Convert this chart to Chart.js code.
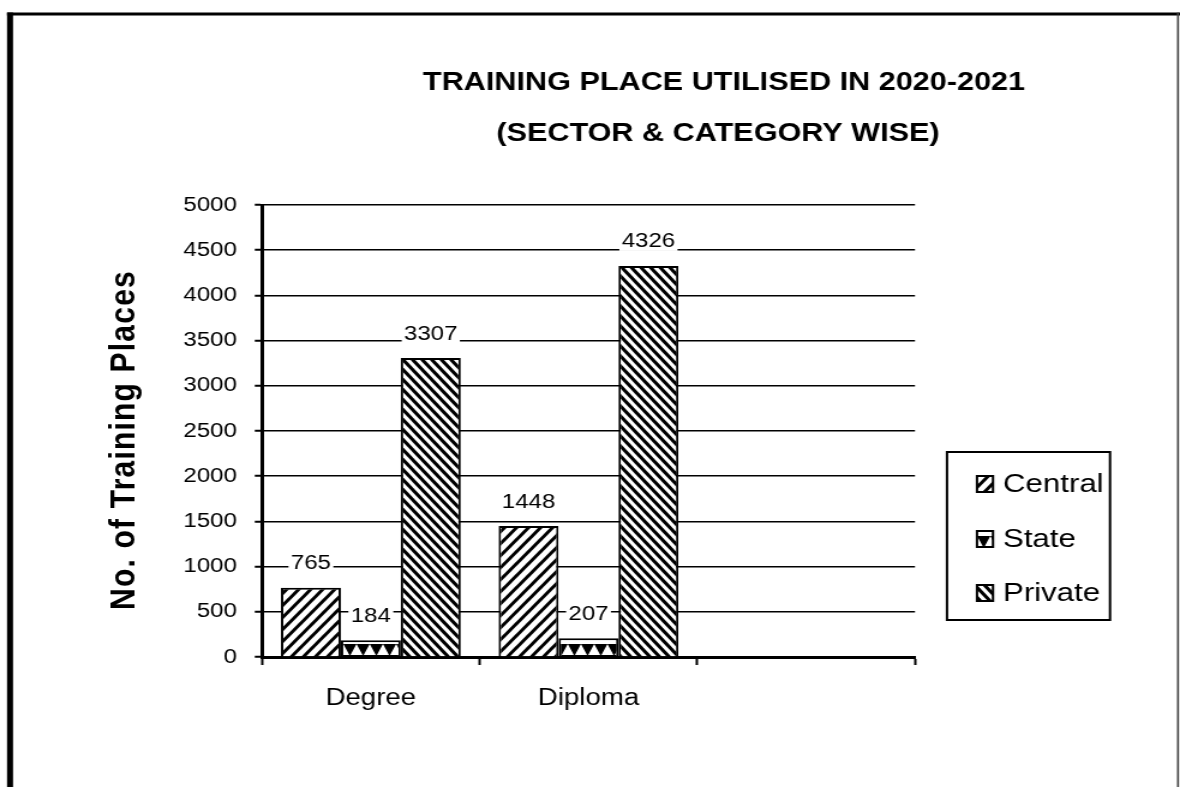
<!DOCTYPE html>
<html><head><meta charset="utf-8">
<script src="https://cdn.jsdelivr.net/npm/chart.js@4/dist/chart.umd.min.js"></script>
<style>html,body{margin:0;padding:0;background:#fff;overflow:hidden}
#c{display:block}</style></head>
<body><canvas id="c" width="983" height="787" style="width:1180px;height:787px"></canvas>
<script>
// ---- data ----
const categories = ['Degree', 'Diploma', ''];
const seriesNames = ['Central', 'State', 'Private'];
const centralValues = [765, 1448, null];
const stateValues = [184, 207, null];
const privateValues = [3307, 4326, null];
const yTickMin = 0;
const yTickMax = 5000;
const yTickStep = 500;
const titleLines = ['TRAINING PLACE UTILISED IN 2020-2021', '(SECTOR & CATEGORY WISE)'];
const yAxisTitle = 'No. of Training Places';

// ---- geometry helpers (canvas is drawn narrower and stretched horizontally) ----
const W = 983, H = 787;
const SX = W / 1180;
const R = x => x * SX;
const FONT = '"Liberation Sans", Arial, Helvetica, sans-serif';

function stripePattern(w, h, dir, lw) {
  const c = document.createElement('canvas');
  c.width = w; c.height = h;
  const g = c.getContext('2d');
  g.fillStyle = '#fff'; g.fillRect(0, 0, w, h);
  g.strokeStyle = '#000'; g.lineWidth = lw; g.lineCap = 'square';
  for (let k = -1; k <= 1; k++) {
    g.beginPath();
    if (dir === '/') { g.moveTo(k * w, h); g.lineTo(k * w + w, 0); }
    else { g.moveTo(k * w, 0); g.lineTo(k * w + w, h); }
    g.stroke();
  }
  return g.createPattern(c, 'repeat');
}
function trianglePattern(w, h) {
  const c = document.createElement('canvas');
  c.width = w; c.height = h;
  const g = c.getContext('2d');
  g.fillStyle = '#fff'; g.fillRect(0, 0, w, h);
  g.fillStyle = '#000';
  g.beginPath(); g.moveTo(0, 5); g.lineTo(w, 5); g.lineTo(w / 2, h - 1); g.closePath(); g.fill();
  g.fillRect(0, h - 2, w, 2);
  return g.createPattern(c, 'repeat');
}
const pCentral = stripePattern(10, 12, '/', 3);
const pState = trianglePattern(11, 18);
const pPrivate = stripePattern(8, 10, '\\', 3);
const patterns = [pCentral, pState, pPrivate];

const decor = {
  id: 'decor',
  beforeDraw(chart) {
    const ctx = chart.ctx;
    ctx.save();
    ctx.fillStyle = '#fff'; ctx.fillRect(0, 0, W, H);
    ctx.fillStyle = '#000';
    ctx.fillRect(R(7), 12.5, R(6), H);        // left frame
    ctx.fillRect(R(7), 12.5, W - R(7), 3);     // top frame
    ctx.fillStyle = '#444';
    ctx.fillRect(R(1177), 12.5, R(2), H);      // right frame
    ctx.restore();
  },
  beforeDatasetsDraw(chart) {
    const y0 = chart.scales.y.getPixelForValue(0);
    if (pState.setTransform) pState.setTransform(new DOMMatrix([1, 0, 0, 1, 0, y0]));
  },
  afterDatasetsDraw(chart) {
    const ctx = chart.ctx;
    ctx.save();
    ctx.font = '20px ' + FONT;
    ctx.textAlign = 'center'; ctx.textBaseline = 'middle';
    chart.data.datasets.forEach((ds, i) => {
      const meta = chart.getDatasetMeta(i);
      meta.data.forEach((bar, j) => {
        const v = ds.data[j];
        if (v == null) return;
        const t = String(v);
        const w = ctx.measureText(t).width;
        const y = bar.y - 25;
        ctx.fillStyle = '#fff';
        ctx.fillRect(bar.x - w / 2 - 2, y - 10, w + 4, 20);
        ctx.fillStyle = '#000';
        ctx.fillText(t, bar.x, y + 1);
      });
    });
    ctx.restore();
  },
  afterDraw(chart) {
    const ctx = chart.ctx;
    ctx.save();
    ctx.fillStyle = '#000';
    ctx.textAlign = 'center'; ctx.textBaseline = 'middle';
    ctx.font = 'bold 25.5px ' + FONT;
    ctx.fillText(titleLines[0], R(724), 83);
    ctx.fillText(titleLines[1], R(718), 134);
    // y-axis title
    ctx.save();
    ctx.translate(R(124), 440);
    ctx.rotate(-Math.PI / 2);
    ctx.font = 'bold 30px ' + FONT;
    if ('letterSpacing' in ctx) ctx.letterSpacing = '1.2px';
    ctx.fillText(yAxisTitle, 0, 0);
    ctx.restore();
    // legend
    const lx = R(947), ly = 452, lw = R(1110) - R(947), lh = 168;
    ctx.lineWidth = 2; ctx.strokeStyle = '#000';
    ctx.fillStyle = '#fff';
    ctx.fillRect(lx, ly, lw, lh);
    ctx.strokeRect(lx, ly, lw, lh);
    const rows = [484, 539, 593];
    ctx.font = '26px ' + FONT;
    ctx.textAlign = 'left';
    chart.data.datasets.forEach((ds, i) => {
      const sx = R(977), sy = rows[i] - 8, sw = R(16), sh = 16;
      ctx.fillStyle = patterns[i];
      ctx.fillRect(sx, sy, sw, sh);
      ctx.lineWidth = 2;
      ctx.strokeRect(sx, sy, sw, sh);
      ctx.fillStyle = '#000';
      ctx.fillText(ds.label, R(1003), rows[i] + 1);
    });
    ctx.restore();
  }
};

new Chart(document.getElementById('c'), {
  type: 'bar',
  data: {
    labels: categories,
    datasets: [
      { label: seriesNames[0], data: centralValues, backgroundColor: pCentral },
      { label: seriesNames[1], data: stateValues, backgroundColor: pState },
      { label: seriesNames[2], data: privateValues, backgroundColor: pPrivate }
    ]
  },
  options: {
    responsive: false,
    animation: false,
    devicePixelRatio: 1,
    events: [],
    layout: { padding: { top: 205, right: W - R(915), bottom: 0, left: 0 } },
    datasets: { bar: { categoryPercentage: 0.826, barPercentage: 1, borderColor: '#000', borderWidth: 2, borderSkipped: 'start' } },
    plugins: { legend: { display: false }, title: { display: false }, tooltip: { enabled: false } },
    scales: {
      x: {
        offset: true,
        grid: { display: true, drawOnChartArea: false, drawTicks: true, tickLength: 8, tickWidth: 2, color: '#000', offset: true },
        border: { display: true, color: '#000', width: 3 },
        ticks: { color: '#000', font: { family: FONT, size: 23 }, padding: 20, maxRotation: 0, autoSkip: false },
        afterFit(s) { s.height = H - 657; }
      },
      y: {
        min: yTickMin, max: yTickMax,
        ticks: { stepSize: yTickStep, color: '#000', font: { family: FONT, size: 20 }, padding: 15, callback: v => String(v) },
        grid: { color: '#000', lineWidth: 1.5, tickLength: 6, tickWidth: 2, drawTicks: true },
        border: { display: true, color: '#000', width: 3 },
        afterFit(s) { s.width = R(262); }
      }
    }
  },
  plugins: [decor]
});
</script>
</body></html>
